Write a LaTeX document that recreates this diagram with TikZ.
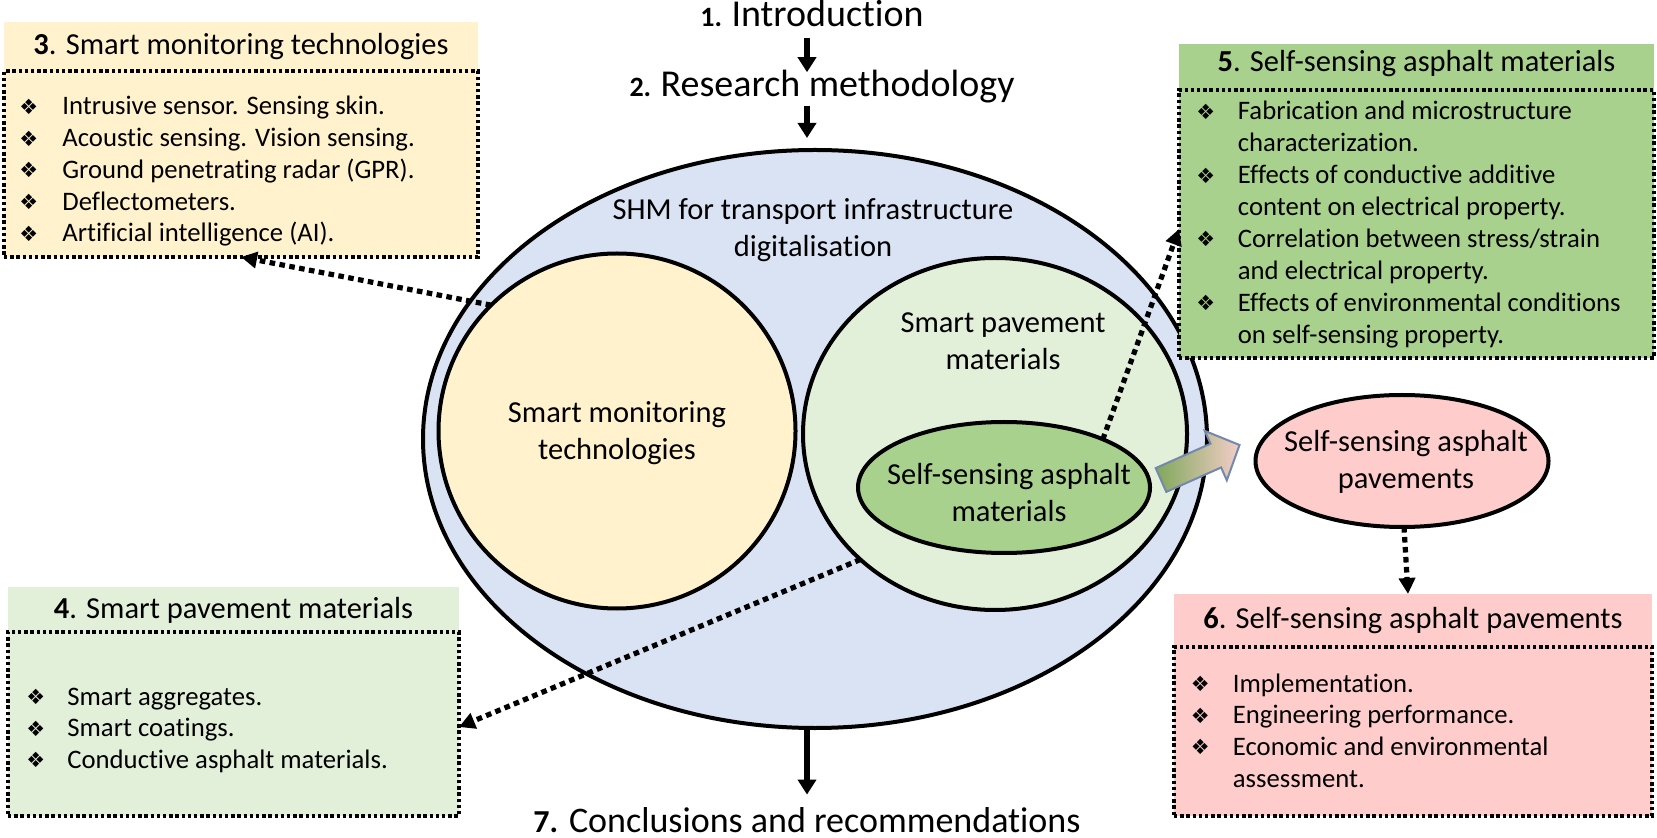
\documentclass[tikz,border=0pt]{standalone}
\usepackage{fontspec}
\setmainfont{Carlito}[Ligatures=NoCommon]
\newfontfamily\dejavu{DejaVu Sans}
\usetikzlibrary{arrows.meta,shapes.geometric}

\definecolor{cblue}{HTML}{DAE3F3}
\definecolor{cyel}{HTML}{FFF2CC}
\definecolor{clgreen}{HTML}{E2F0D9}
\definecolor{cgreen}{HTML}{A9D18E}
\definecolor{cpink}{HTML}{FFCCCC}
\definecolor{carrowb}{HTML}{7388AE}
\definecolor{cgradA}{HTML}{7FA85A}
\definecolor{cgradB}{HTML}{F4CDC8}

\newcommand{\bul}{{\dejavu\fontsize{10.5pt}{12pt}\selectfont\raisebox{0.3pt}{❖}}}
\newcommand{\bit}[1]{\makebox[#1][l]{\hspace*{-1pt}\bul}}

\tikzset{
  bubble/.style={ellipse, draw=black, line width=2pt, inner sep=0pt, outer sep=0pt},
  band/.style={rectangle, inner sep=0pt, outer sep=0pt, draw=none},
  dotbox/.style={rectangle, inner sep=0pt, outer sep=0pt, draw=black, line width=1.8pt, dash pattern=on 1.7pt off 1.4pt},
  dotarrow/.style={line width=2.6pt, dash pattern=on 2.8pt off 2.2pt, -{Triangle[length=8pt,width=8pt]}},
  solidarrow/.style={line width=2.8pt, -{Triangle[length=7.5pt,width=9pt]}},
  bigtxt/.style={font=\fontsize{19pt}{23pt}\selectfont, inner sep=0pt, anchor=base},
  midtxt/.style={font=\fontsize{15.25pt}{18.25pt}\selectfont, inner sep=0pt, anchor=base},
  listtxt/.style={font=\fontsize{13.35pt}{15.85pt}\selectfont, inner sep=0pt, anchor=base west},
}
\newcommand{\hnum}[2]{{\fontsize{#1}{#1}\selectfont\bfseries #2}}

\begin{document}
\begin{tikzpicture}[x=0.5pt, y=-0.5pt]
\useasboundingbox (0,0) rectangle (1657,838);
\fill[white] (0,0) rectangle (1657,838);

% ellipses
\node[bubble, fill=cblue, minimum width=392pt, minimum height=289pt] (big) at (815,439) {};
\node[bubble, fill=cyel, minimum width=178.5pt, minimum height=177.5pt] (yc) at (617,431) {};
\node[bubble, fill=clgreen, minimum width=192pt, minimum height=176pt] (gc) at (995,434) {};
\node[bubble, fill=cgreen, minimum width=146pt, minimum height=65.5pt] (ic) at (1004,487.5) {};
\node[bubble, fill=cpink, minimum width=146.5pt, minimum height=66pt] (pk) at (1402,461) {};

% texts in ellipses
\node[midtxt] (shm) at (813,220) {\begin{tabular}[t]{@{}c@{}}SHM for transport infrastructure\\digitalisation\end{tabular}};
\node[midtxt] (ytxt) at (617,423) {\begin{tabular}[t]{@{}c@{}}Smart monitoring\\technologies\end{tabular}};
\node[midtxt] (gtxt) at (1003,333) {\begin{tabular}[t]{@{}c@{}}Smart pavement\\materials\end{tabular}};
\node[midtxt] (itxt) at (1009,485) {\begin{tabular}[t]{@{}c@{}}Self-sensing asphalt\\materials\end{tabular}};
\node[midtxt] (ptxt) at (1406,452) {\begin{tabular}[t]{@{}c@{}}Self-sensing asphalt\\pavements\end{tabular}};

% headings
\node[bigtxt] (intro) at (812,27) {\hnum{14pt}{1.}\hspace{-1pt} Introduction};
\node[bigtxt] (research) at (822,97) {\hnum{14pt}{2.}\hspace{-1pt} Research methodology};
\node[bigtxt, font=\fontsize{18pt}{22pt}\selectfont] (concl) at (807,832) {\hnum{16pt}{7.} Conclusions and recommendations};

% box 3
\node[band, fill=cyel, minimum width=237pt, minimum height=117.5pt, anchor=north west] (b3) at (4,22) {};
\node[dotbox, minimum width=237pt, minimum height=93pt, anchor=south west] (b3d) at (b3.south west) {};
\node[midtxt] (b3t) at (241,55) {{\bfseries 3}. Smart monitoring technologies};
\node[listtxt] (b3l) at (21,115) {\begin{tabular}[t]{@{}l@{}}
\bit{20.5pt}Intrusive sensor. Sensing skin.\\
\bit{20.5pt}Acoustic sensing. Vision sensing.\\
\bit{20.5pt}Ground penetrating radar (GPR).\\
\bit{20.5pt}Deflectometers.\\
\bit{20.5pt}Artificial intelligence (AI).
\end{tabular}};

% box 4
\node[band, fill=clgreen, minimum width=225.5pt, minimum height=114.5pt, anchor=north west] (b4) at (8,587) {};
\node[dotbox, minimum width=225.5pt, minimum height=92pt, anchor=south west] (b4d) at (b4.south west) {};
\node[midtxt] (b4t) at (233.5,618) {{\bfseries 4}. Smart pavement materials};
\node[listtxt] (b4l) at (28,705) {\begin{tabular}[t]{@{}l@{}}
\bit{19.5pt}Smart aggregates.\\
\bit{19.5pt}Smart coatings.\\
\bit{19.5pt}Conductive asphalt materials.
\end{tabular}};

% box 5
\node[band, fill=cgreen, minimum width=237.5pt, minimum height=157pt, anchor=north west] (b5) at (1179,44) {};
\node[dotbox, minimum width=237.5pt, minimum height=134pt, anchor=south west] (b5d) at (b5.south west) {};
\node[midtxt] (b5t) at (1416.5,72) {{\bfseries 5}. Self-sensing asphalt materials};
\node[listtxt, font=\fontsize{13.35pt}{15.95pt}\selectfont] (b5l) at (1198,120) {\begin{tabular}[t]{@{}l@{}}
\bit{19.75pt}Fabrication and microstructure\\
\hspace*{19.75pt}characterization.\\
\bit{19.75pt}Effects of conductive additive\\
\hspace*{19.75pt}content on electrical property.\\
\bit{19.75pt}Correlation between stress/strain\\
\hspace*{19.75pt}and electrical property.\\
\bit{19.75pt}Effects of environmental conditions\\
\hspace*{19.75pt}on self-sensing property.
\end{tabular}};

% box 6
\node[band, fill=cpink, minimum width=239pt, minimum height=111pt, anchor=north west] (b6) at (1174,594) {};
\node[dotbox, minimum width=239pt, minimum height=84.5pt, anchor=south west] (b6d) at (b6.south west) {};
\node[midtxt] (b6t) at (1413,628) {{\bfseries 6}. Self-sensing asphalt pavements};
\node[listtxt] (b6l) at (1192.5,692) {\begin{tabular}[t]{@{}l@{}}
\bit{20pt}Implementation.\\
\bit{20pt}Engineering performance.\\
\bit{20pt}Economic and environmental\\
\hspace*{20pt}assessment.
\end{tabular}};

% gradient block arrow
\path[draw=carrowb, line width=1pt, line join=miter, left color=cgradA, right color=cgradB]
  (1155.7,468.1) -- (1210.5,443.7) -- (1204.8,430.9) -- (1239.5,445.0)
  -- (1226.8,480.3) -- (1221.1,467.5) -- (1166.3,491.9) -- cycle;

% solid arrows
\coordinate (col) at (807,0);
\draw[solidarrow, shorten <=5pt, shorten >=-1pt] (intro.south -| col) -- (research.north -| col);
\draw[solidarrow, shorten <=1pt, shorten >=6pt] (research.south -| col) -- (big.north -| col);
\draw[solidarrow, shorten >=6pt] (big.south -| col) -- (concl.north -| col);

% dotted arrows
\draw[dotarrow] (yc.135) -- (b3.south);
\draw[dotarrow] (ic.26) -- ([yshift=-14pt]b5.west);
\draw[dotarrow] (gc.223) -- ([yshift=-12.75pt]b4.east);
\draw[dotarrow] ([xshift=1pt]pk.south) -- ([xshift=-2.5pt]b6.north);
\end{tikzpicture}
\end{document}
